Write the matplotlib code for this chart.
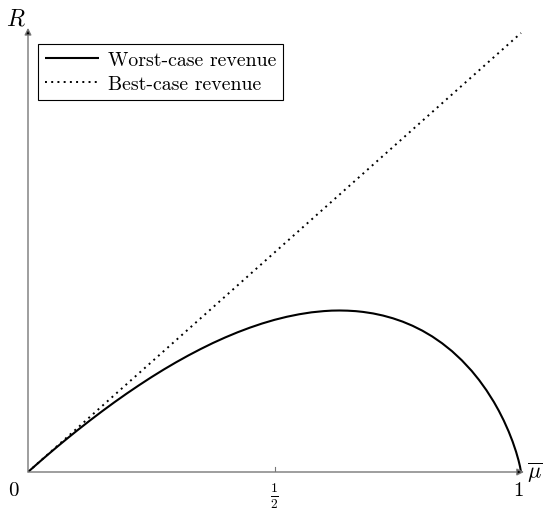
import matplotlib
matplotlib.use("Agg")
import matplotlib.pyplot as plt

# Data
mu_best = [0.0, 1.0]
r_best = [0.0, 1.0]

mu_worst = [0.0, 0.01, 0.02, 0.04, 0.06, 0.08, 0.1, 0.125, 0.15, 0.175, 0.2,
            0.225, 0.25, 0.275, 0.3, 0.325, 0.35, 0.375, 0.4, 0.425, 0.45,
            0.475, 0.5, 0.525, 0.55, 0.575, 0.6, 0.616, 0.632, 0.648, 0.665,
            0.68, 0.7, 0.72, 0.74, 0.76, 0.78, 0.8, 0.82, 0.84, 0.86, 0.88,
            0.9, 0.915, 0.93, 0.945, 0.955, 0.965, 0.975, 0.983, 0.99, 0.995,
            0.998, 1.0]
r_worst = [0.0, 0.0099, 0.0198, 0.0392, 0.0582, 0.0767, 0.0948, 0.1168,
           0.1381, 0.1587, 0.1785, 0.1975, 0.2158, 0.2332, 0.2497, 0.2653,
           0.2800, 0.2938, 0.3065, 0.3182, 0.3288, 0.3383, 0.3466, 0.3536,
           0.3593, 0.3637, 0.3665, 0.3676, 0.3679, 0.3675, 0.3664, 0.3646,
           0.3612, 0.3564, 0.3502, 0.3425, 0.3331, 0.3219, 0.3087, 0.2932,
           0.2753, 0.2544, 0.2303, 0.2095, 0.1861, 0.1595, 0.1395, 0.1173,
           0.0922, 0.0693, 0.0461, 0.0265, 0.0124, 0.0]

xticks = [0, 0.5, 1]
xticklabels = ["0", r"$\frac{1}{2}$", "1"]

plt.rcParams["mathtext.fontset"] = "cm"

W, H = 544, 510
fig = plt.figure(figsize=(W / 100, H / 100), dpi=100)

x0, y0 = 28, 473      # origin in pixels
px_per_x = 493
px_per_y = 439
x_right, y_top = 525, 28
ax = fig.add_axes([x0 / W, 1 - y0 / H, (x_right - x0) / W, (y0 - y_top) / H])
ax.set_xlim(0, (x_right - x0) / px_per_x)
ax.set_ylim(0, (y0 - y_top) / px_per_y)

for s in ax.spines.values():
    s.set_visible(False)

ax.plot(mu_worst, r_worst, color="black", lw=1.5, label="Worst-case revenue",
        solid_capstyle="butt", solid_joinstyle="round")
ax.plot(mu_best, r_best, color="black", lw=1.4, linestyle=(0, (1, 2.2)),
        label="Best-case revenue")

# axes with arrows
xmax = ax.get_xlim()[1]
ymax = ax.get_ylim()[1]
for xy in [(xmax - 0.002, 0), (0, ymax - 0.002)]:
    ax.annotate("", xy=xy, xytext=(0, 0),
                arrowprops=dict(arrowstyle="-|>", lw=1.0, mutation_scale=10,
                                shrinkA=0, shrinkB=0, fc="black", ec="#777777"))

ax.set_xticks([])
ax.set_yticks([])
# tick at 1/2
ax.plot([0.5, 0.5], [0, 0.012], color="#777777", lw=0.8)

ax.text(-0.03, -0.02, xticklabels[0], fontsize=15, family="cmr10", ha="center", va="top")
ax.text(0.5, -0.052, xticklabels[1], fontsize=14, ha="center", va="center")
ax.text(0.995, -0.02, xticklabels[2], fontsize=15, family="cmr10", ha="center", va="top")
ax.text(1.027, 0.0, r"$\overline{\mu}$", fontsize=16, ha="center", va="center",
        clip_on=False)
fig.text(16 / W, 1 - 18 / H, r"$R$", fontsize=17, ha="center", va="center")

leg = ax.legend(loc="upper left", bbox_to_anchor=((38 - x0) / (x_right - x0), (y0 - 45) / (y0 - y_top)),
                frameon=True, fancybox=False, edgecolor="black", framealpha=1,
                prop={"family": "cmr10", "size": 14.3}, handlelength=2.7,
                borderpad=0.35, labelspacing=0.3, handletextpad=0.45,
                borderaxespad=0)
leg.get_frame().set_linewidth(0.8)

fig.savefig("out.png", dpi=100)
